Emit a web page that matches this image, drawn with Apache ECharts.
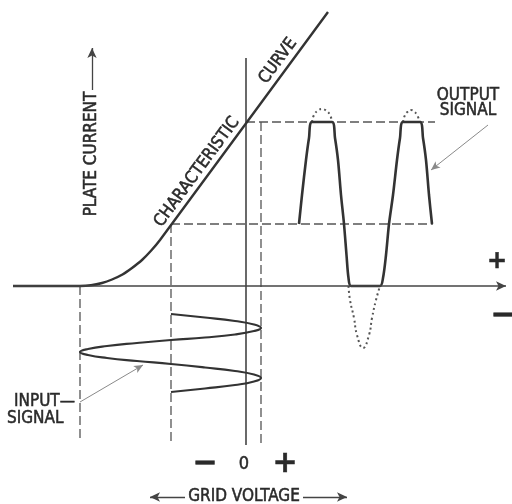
<!DOCTYPE html>
<html>
<head>
<meta charset="utf-8">
<script src="https://cdn.jsdelivr.net/npm/echarts@6/dist/echarts.min.js"></script>
<style>html,body{margin:0;padding:0;background:#fff}#c{width:512px;height:504px}</style>
</head>
<body>
<div id="c"></div>
<script>
// ---- data (grid voltage on x, plate current on y; 0,0 = zero grid volts / zero plate current) ----
const characteristicV = [-233, -166, -155, -144, -134, -123.5, -114, -104, -95, -86, 82];
const characteristicI = [0, 0, 0.7, 3, 6.5, 11.5, 18, 26, 35.2, 46, 274];

// input signal: grid voltage swing (x) drawn against time running downwards (y)
const inputGridV = [-75, -41, -11, 8, 15, 8, -11, -41, -75, -109, -139, -158, -166, -158, -139, -109, -75, -41, -11, 8, 15, 8, -11, -41, -75];
const inputTime  = [-28, -31.5, -35, -38.5, -42, -45, -48.5, -51.5, -54, -57, -60, -63, -66, -69, -72, -75, -78, -81.5, -85, -88.5, -92, -95.5, -99, -102.5, -106];

// output signal: time (x) vs plate current (y), clipped (solid)
const outputTime   = [53, 56, 60, 63, 66, 86, 89, 92, 95, 98, 100.5, 102.5, 105, 134, 137, 140, 143, 147, 151, 154, 157, 174, 177, 180, 183, 186];
const outputPlateI = [62, 91, 126, 148, 164, 164, 148, 126, 91, 62, 31, 8, 0, 0, 8, 31, 62, 91, 126, 148, 164, 164, 148, 126, 91, 62];

// parts of the undistorted output that are cut off (dotted)
const cutTop1T = [66, 68, 72, 76, 80, 84, 86];
const cutTop1I = [164, 171, 175.5, 177, 175.5, 171, 164];
const cutBottomT = [102.5, 104, 108, 111, 117, 123, 126, 130, 134];
const cutBottomI = [0, -14, -32, -49, -62, -49, -32, -14, 0];
const cutTop2T = [157, 159, 162, 165, 168, 171, 174];
const cutTop2I = [164, 171, 174.5, 176, 174.5, 171, 164];

// operating values
const biasV = -75, posPeakV = 15, negPeakV = -166;
const quiescentI = 62, clipI = 164;
const timeBottom = -157, outputEnd = 188;

const zip = (a, b) => a.map((v, i) => [v, b[i]]);

const FONT = '"DejaVu Sans Condensed", "Liberation Sans Narrow", sans-serif';
const INK = '#333';

const dashedSegments = [
  [[biasV, quiescentI], [outputEnd - 1, quiescentI]],
  [[0, clipI], [outputEnd + 1, clipI]],
  [[biasV, quiescentI], [biasV, timeBottom + 1]],
  [[posPeakV, clipI], [posPeakV, timeBottom - 1]],
  [[negPeakV, 0], [negPeakV, timeBottom + 1]]
];

const series = [];
dashedSegments.forEach(seg => series.push({
  type: 'line', data: seg, showSymbol: false, silent: true,
  lineStyle: { color: '#555', width: 1.3, type: [9, 4] }
}));

const solid = (color, width) => ({ color, width, type: 'solid' });
const pointer = (from, to, curveness) => ({
  silent: true, animation: false, label: { show: false },
  symbol: ['none', 'arrow'], symbolSize: [6, 9],
  lineStyle: { color: '#8a8a8a', width: 1, type: 'solid', curveness },
  data: [[{ coord: from }, { coord: to }]]
});

series.push({
  type: 'line', data: [[0, 228], [0, -159]], showSymbol: false, silent: true,
  lineStyle: { color: '#444', width: 1.6 },
  markLine: {
    silent: true, animation: false, label: { show: false },
    symbol: ['none', 'arrow'], symbolSize: [7, 10],
    lineStyle: { type: 'solid' },
    data: [
      [{ coord: [-233, 0], lineStyle: solid('#444', 1.6) }, { coord: [260, 0] }],
      [{ coord: [-154, 196], lineStyle: solid('#444', 1.3) }, { coord: [-154, 238] }],
      [{ coord: [-61, -211], lineStyle: solid('#444', 1.3) }, { coord: [-96, -211] }],
      [{ coord: [57, -211], lineStyle: solid('#444', 1.3) }, { coord: [101, -211] }]
    ]
  }
});

series.push({
  type: 'line', data: zip(characteristicV, characteristicI), showSymbol: false, silent: true, smooth: 0.3,
  lineStyle: { color: INK, width: 2.4 }
});
series.push({
  type: 'line', data: zip(inputGridV, inputTime), showSymbol: false, silent: true, smooth: 0.5,
  lineStyle: { color: INK, width: 2.2 },
  markLine: pointer([-166, -116], [-103, -79], -0.3)
});
[[cutTop1T, cutTop1I], [cutBottomT, cutBottomI], [cutTop2T, cutTop2I]].forEach(([t, i]) => series.push({
  type: 'line', data: zip(t, i), showSymbol: false, silent: true, smooth: 0.5,
  lineStyle: { color: '#555', width: 2, type: [2, 3] }
}));
series.push({
  type: 'line', data: zip(outputTime, outputPlateI), showSymbol: false, silent: true, smooth: 0.3,
  lineStyle: { color: INK, width: 2.6 },
  markLine: pointer([242, 161], [185, 116], 0.35)
});

const txt = (text, x, y, opt = {}) => ({
  type: 'text', x, y, rotation: opt.rotation || 0, silent: true,
  style: Object.assign({
    text, fill: '#2a2a2a', stroke: '#2a2a2a', lineWidth: 0.5,
    fontFamily: FONT, fontSize: 17,
    align: 'center', verticalAlign: 'middle'
  }, opt.style || {})
});

const slope = Math.atan(1.357);

const option = {
  backgroundColor: '#fff',
  animation: false,
  grid: { left: 0, right: 0, top: 0, bottom: 0 },
  xAxis: { type: 'value', min: -246, max: 266, show: false },
  yAxis: { type: 'value', min: -218, max: 286, show: false },
  series,
  graphic: [
    txt('PLATE CURRENT', 92, 154, { rotation: Math.PI / 2 }),
    txt('CHARACTERISTIC', 197, 172, { rotation: slope }),
    txt('CURVE', 278, 61, { rotation: slope }),
    txt('OUTPUT\nSIGNAL', 468, 103, { style: { lineHeight: 15 } }),
    txt('INPUT—', 14, 402, { style: { align: 'left' } }),
    txt('SIGNAL', 7, 419, { style: { align: 'left' } }),
    txt('−', 205, 464, { style: { fontFamily: 'DejaVu Sans', fontWeight: 'bold', fontSize: 30 } }),
    txt('0', 244, 464, { style: { fontSize: 18 } }),
    txt('+', 285, 464, { style: { fontFamily: 'DejaVu Sans', fontWeight: 'bold', fontSize: 30 } }),
    txt('GRID VOLTAGE', 244, 497, {}),
    txt('+', 497, 262, { style: { fontFamily: 'DejaVu Sans', fontWeight: 'bold', fontSize: 24 } }),
    txt('−', 503, 316, { style: { fontFamily: 'DejaVu Sans', fontWeight: 'bold', fontSize: 30 } })
  ]
};

echarts.init(document.getElementById('c'), null, { renderer: 'canvas' }).setOption(option);
</script>
</body>
</html>
